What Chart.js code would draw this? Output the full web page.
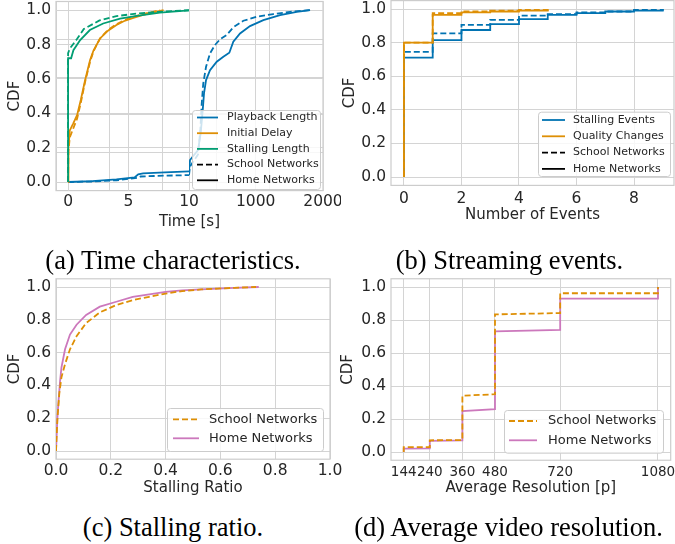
<!DOCTYPE html>
<html>
<head>
<meta charset="utf-8">
<script src="https://cdn.jsdelivr.net/npm/chart.js@4.4.0/dist/chart.umd.min.js"></script>
<style>
  body { margin: 0; background: #fff; width: 675px; height: 544px; position: relative; overflow: hidden; }
  canvas { position: absolute; }
  .cap { position: absolute; font-family: "Liberation Serif", "Times New Roman", serif; font-size: 26.5px; line-height: 1;
         color: #000; white-space: nowrap; transform: translateX(-50%); }
</style>
</head>
<body>
<canvas id="a0" width="330" height="232" style="left:0;top:0"></canvas>
<canvas id="a1" width="205" height="232" style="left:0;top:0"></canvas>
<canvas id="a2" width="152" height="232" style="left:189px;top:0"></canvas>
<canvas id="b" width="340" height="232" style="left:335px;top:0"></canvas>
<canvas id="c" width="345" height="232" style="left:0;top:270px"></canvas>
<canvas id="d" width="340" height="232" style="left:335px;top:270px"></canvas>
<div class="cap" style="left:173px;top:246.5px">(a) Time characteristics.</div>
<div class="cap" style="left:509.5px;top:246.5px">(b) Streaming events.</div>
<div class="cap" style="left:173px;top:513.5px">(c) Stalling ratio.</div>
<div class="cap" style="left:508.5px;top:513.5px">(d) Average video resolution.</div>
<script>
// tick values
const cdfTicks = [0, 0.2, 0.4, 0.6, 0.8, 1.0];
const overlayTicks = [0, 0.2, 0.4, 0.6, 0.8, 1.0];
const timeTicksShort = [0, 5, 10];
const timeTicksLong = [1000, 2000];
const eventTicks = [0, 2, 4, 6, 8];
const ratioTicks = [0, 0.2, 0.4, 0.6, 0.8, 1.0];
const resTicks = [144, 240, 360, 480, 720, 1080];

// legend / series names
const timeSeries = ['Playback Length', 'Initial Delay', 'Stalling Length'];
const eventSeries = ['Stalling Events', 'Quality Changes'];
const netLabels = ['School Networks', 'Home Networks'];

// (a) time characteristics, [seconds, CDF]
const playHomeShort = [[0, 0], [2, 0.005], [4, 0.015], [5.5, 0.027], [5.8, 0.045], [6.2, 0.05], [8, 0.056], [10, 0.062]];
const playSchoolShort = [[0, 0], [2, 0.003], [4, 0.01], [5.7, 0.024], [6, 0.032], [8, 0.037], [10, 0.04]];
const playHomeLong = [[10, 0.062], [25, 0.128], [144, 0.186], [184, 0.285], [214, 0.42], [233, 0.515], [263, 0.593],
  [322, 0.65], [422, 0.70], [520, 0.729], [609, 0.752], [668, 0.816], [768, 0.864], [916, 0.907], [1114, 0.942],
  [1362, 0.971], [1610, 0.99], [1808, 1.0]];
const playSchoolLong = [[10, 0.04], [25, 0.09], [144, 0.16], [178, 0.3], [199, 0.457], [222, 0.574], [263, 0.67],
  [322, 0.748], [396, 0.797], [471, 0.83], [570, 0.855], [668, 0.9], [817, 0.938], [1016, 0.961], [1263, 0.977],
  [1511, 0.99], [1808, 1.0]];
const delayHome = [[0, 0], [0.03, 0.2], [0.14, 0.3], [0.42, 0.34], [0.75, 0.39], [1.05, 0.477], [1.4, 0.59],
  [1.82, 0.71], [2.1, 0.765], [2.64, 0.835], [3.3, 0.88], [4.0, 0.913], [4.6, 0.935], [5.4, 0.955], [6.2, 0.972],
  [7.0, 0.986], [7.7, 0.997], [7.9, 1.0]];
const delaySchool = [[0, 0], [0.03, 0.18], [0.14, 0.26], [0.42, 0.31], [0.75, 0.37], [1.05, 0.46], [1.4, 0.58],
  [1.82, 0.70], [2.1, 0.76], [2.64, 0.835], [3.3, 0.885], [4.0, 0.918], [4.6, 0.94], [5.4, 0.96], [6.2, 0.977],
  [7.0, 0.99], [7.6, 1.0]];
const stallLenHome = [[0, 0], [0, 0.72], [0.25, 0.72], [0.44, 0.767], [1.0, 0.826], [1.8, 0.884], [2.9, 0.922],
  [4.3, 0.95], [5.7, 0.967], [7.6, 0.985], [10, 0.998]];
const stallLenSchool = [[0, 0], [0, 0.75], [0.15, 0.777], [0.4, 0.8], [0.72, 0.83], [1.3, 0.89], [2.6, 0.94],
  [4.0, 0.965], [5.7, 0.98], [7.5, 0.99], [10, 0.999]];

// (b) streaming events
const stallEvX = [0, 1, 2, 3, 4, 5, 6, 7, 8, 9];
const stallEvHome = [0.71, 0.815, 0.875, 0.91, 0.94, 0.965, 0.975, 0.985, 0.99, 1.0];
const stallEvSchool = [0.745, 0.855, 0.905, 0.935, 0.96, 0.97, 0.98, 0.985, 0.995, 1.0];
const qualX = [0, 1, 2, 3, 4, 5];
const qualHome = [0.80, 0.965, 0.98, 0.985, 0.99, 0.995];
const qualSchool = [0.80, 0.975, 0.985, 0.99, 0.995, 1.0];

// (c) stalling ratio
const ratioHome = [[0, 0], [0.005, 0.2], [0.0085, 0.29], [0.015, 0.43], [0.02, 0.51], [0.033, 0.62], [0.051, 0.71],
  [0.075, 0.77], [0.11, 0.83], [0.16, 0.88], [0.22, 0.91], [0.28, 0.94], [0.34, 0.955], [0.40, 0.97], [0.46, 0.98],
  [0.53, 0.985], [0.59, 0.99], [0.65, 0.995], [0.74, 1.0]];
const ratioSchool = [[0, 0], [0.005, 0.19], [0.012, 0.35], [0.02, 0.45], [0.033, 0.53], [0.051, 0.62], [0.075, 0.70],
  [0.11, 0.78], [0.16, 0.845], [0.22, 0.89], [0.28, 0.92], [0.34, 0.94], [0.40, 0.96], [0.46, 0.975], [0.53, 0.985],
  [0.59, 0.99], [0.65, 0.995], [0.73, 1.0]];

// (d) average resolution
const resSchool = [[144, 0], [144, 0.03], [240, 0.03], [240, 0.071], [360, 0.072], [360, 0.341], [480, 0.35],
  [480, 0.834], [720, 0.842], [720, 0.962], [1080, 0.962], [1080, 1.0]];
const resHome = [[144, 0], [144, 0.02], [240, 0.022], [240, 0.067], [360, 0.07], [360, 0.248], [480, 0.26],
  [480, 0.731], [720, 0.74], [720, 0.929], [1080, 0.929], [1080, 1.0]];

const BLUE = '#0173b2', ORANGE = '#de8f05', GREEN = '#029e73', PINK = '#cc78bc';
const GRID = '#d4d4d4', SPINE = '#cccccc', TEXT = '#262626';
const DASH = [6, 3];

Chart.defaults.font.family = "'DejaVu Sans', sans-serif";
Chart.defaults.color = TEXT;

const pts = a => a.map(([x, y]) => ({ x, y }));
const steps = (xs, ys) => [{ x: xs[0], y: 0 }, ...xs.map((x, i) => ({ x, y: ys[i] }))];
const line = (label, data, color, dashed, extra) => Object.assign({
  label, data, borderColor: color, borderWidth: 1.8, borderDash: dashed ? DASH : [],
  pointRadius: 0, fill: false, tension: 0
}, extra || {});

function xAxis(o) {
  return {
    type: 'linear', min: o.min, max: o.max,
    afterBuildTicks: s => { s.ticks = o.ticks.map(v => ({ value: v })); },
    afterFit: s => { s.height = o.height; s.paddingLeft = 0; s.paddingRight = 0; },
    ticks: { display: o.showTicks !== false, font: { size: o.tickSize || 15.5 }, padding: o.tickPad || 0,
      maxRotation: 0, autoSkip: false, callback: o.fmt || (v => String(v)) },
    grid: { color: GRID, drawTicks: false, lineWidth: 1 },
    border: { display: false },
    title: o.title ? { display: true, text: o.title, font: { size: 15 }, padding: { top: 0, bottom: o.titlePad } } : { display: false }
  };
}

function yAxis(o) {
  return {
    type: 'linear', min: o.min, max: o.max,
    afterBuildTicks: s => { s.ticks = o.ticks.map(v => ({ value: v })); },
    afterFit: s => { s.width = o.width; s.paddingTop = 0; s.paddingBottom = 0; },
    ticks: { display: o.showTicks !== false, font: { size: 15.5 }, padding: o.tickPad || 0, callback: v => v.toFixed(1) },
    grid: { color: GRID, drawTicks: false, lineWidth: 1 },
    border: { display: false },
    title: o.title ? { display: true, text: o.title, font: { size: 15 }, padding: { top: o.titlePad, bottom: 0 } } : { display: false }
  };
}

function framePlugin() {
  return {
    id: 'frame',
    beforeDatasetsDraw(chart) {
      const { ctx, chartArea: a } = chart;
      ctx.save();
      ctx.strokeStyle = SPINE;
      ctx.lineWidth = 1.2;
      ctx.strokeRect(a.left, a.top, a.right - a.left, a.bottom - a.top);
      ctx.restore();
    }
  };
}

function legendPlugin(spec) {
  return {
    id: 'boxLegend',
    afterDraw(chart) {
      const ctx = chart.ctx;
      ctx.save();
      ctx.beginPath();
      ctx.roundRect(spec.x + 0.5, spec.y + 0.5, spec.w, spec.h, 3);
      ctx.fillStyle = 'rgba(255,255,255,0.8)';
      ctx.fill();
      ctx.strokeStyle = SPINE;
      ctx.lineWidth = 1;
      ctx.stroke();
      ctx.font = spec.size + "px 'DejaVu Sans'";
      ctx.textBaseline = 'middle';
      spec.items.forEach((it, i) => {
        const cy = spec.first + i * spec.row;
        ctx.beginPath();
        ctx.setLineDash(it.dash ? DASH : []);
        ctx.strokeStyle = it.color;
        ctx.lineWidth = 1.8;
        ctx.moveTo(spec.lx0, cy);
        ctx.lineTo(spec.lx1, cy);
        ctx.stroke();
        ctx.setLineDash([]);
        ctx.fillStyle = TEXT;
        ctx.fillText(it.label, spec.tx, cy);
      });
      ctx.restore();
    }
  };
}

function makeChart(id, datasets, padding, scales, plugins) {
  return new Chart(document.getElementById(id), {
    type: 'line',
    data: { datasets },
    options: {
      responsive: false, animation: false, devicePixelRatio: 1,
      layout: { padding },
      plugins: { legend: { display: false }, tooltip: { enabled: false } },
      scales
    },
    plugins: plugins || []
  });
}

// (a) shared frame, labels and the overlay grid
makeChart('a0', [], { top: 1.5, right: 7, left: 0, bottom: 0 }, {
  x: xAxis({ min: 0, max: 1, ticks: overlayTicks, height: 41.4, showTicks: false, title: 'Time [s]', titlePad: 1 }),
  y: yAxis({ min: 0, max: 1, ticks: overlayTicks, width: 56, showTicks: false, title: 'CDF', titlePad: 5.8 })
}, [framePlugin()]);

// (a) left part: 0-10 s
makeChart('a1', [
  line(timeSeries[2], pts(stallLenSchool), GREEN, true),
  line(timeSeries[2], pts(stallLenHome), GREEN, false),
  line(timeSeries[1], pts(delaySchool), ORANGE, true),
  line(timeSeries[1], pts(delayHome), ORANGE, false),
  line(timeSeries[0], pts(playSchoolShort), BLUE, true),
  line(timeSeries[0], pts(playHomeShort), BLUE, false)
], { top: 1.5, right: 16, left: 0, bottom: 0 }, {
  x: xAxis({ min: -1, max: 10, ticks: timeTicksShort, height: 41.4, tickPad: 2 }),
  y: yAxis({ min: -0.05, max: 1.05, ticks: cdfTicks, width: 56, tickPad: 5 })
});

// (a) right part: 10-2000 s
makeChart('a2', [
  line(timeSeries[0], pts(playSchoolLong), BLUE, true),
  line(timeSeries[0], pts(playHomeLong), BLUE, false)
], { top: 1.5, right: 18, left: 0, bottom: 0 }, {
  x: xAxis({ min: 10, max: 2000, ticks: timeTicksLong, height: 41.4, tickPad: 2 }),
  y: yAxis({ min: -0.05, max: 1.05, ticks: cdfTicks, width: 0, showTicks: false })
}, [legendPlugin({
  x: 3, y: 110, w: 128, h: 79, first: 117.5, row: 15.7, lx0: 8, lx1: 29, tx: 38, size: 11,
  items: [
    { label: timeSeries[0], color: BLUE }, { label: timeSeries[1], color: ORANGE },
    { label: timeSeries[2], color: GREEN }, { label: netLabels[0], color: '#000', dash: true },
    { label: netLabels[1], color: '#000' }
  ]
})]);

// (b) streaming events
makeChart('b', [
  line(eventSeries[1], steps(qualX, qualSchool), ORANGE, true, { stepped: 'before' }),
  line(eventSeries[1], steps(qualX, qualHome), ORANGE, false, { stepped: 'before' }),
  line(eventSeries[0], steps(stallEvX, stallEvSchool), BLUE, true, { stepped: 'before' }),
  line(eventSeries[0], steps(stallEvX, stallEvHome), BLUE, false, { stepped: 'before' })
], { top: 0.6, right: 1, left: 0, bottom: 0 }, {
  x: xAxis({ min: -0.45, max: 9.39, ticks: eventTicks, height: 46.6, tickPad: 4.3, title: 'Number of Events', titlePad: 8 }),
  y: yAxis({ min: -0.05, max: 1.05, ticks: cdfTicks, width: 56, tickPad: 5, title: 'CDF', titlePad: 5.8 })
}, [framePlugin(), legendPlugin({
  x: 203, y: 111.7, w: 132, h: 64.3, first: 120, row: 16.3, lx0: 207, lx1: 230, tx: 238, size: 11,
  items: [
    { label: eventSeries[0], color: BLUE }, { label: eventSeries[1], color: ORANGE },
    { label: netLabels[0], color: '#000', dash: true }, { label: netLabels[1], color: '#000' }
  ]
})]);

// (c) stalling ratio
makeChart('c', [
  line(netLabels[0], pts(ratioSchool), ORANGE, true),
  line(netLabels[1], pts(ratioHome), PINK, false)
], { top: 8.8, right: 15, left: 0, bottom: 0 }, {
  x: xAxis({ min: 0, max: 1, ticks: ratioTicks, height: 42.8, tickPad: 2.5, fmt: v => v.toFixed(1), title: 'Stalling Ratio', titlePad: 5 }),
  y: yAxis({ min: -0.05, max: 1.05, ticks: cdfTicks, width: 56, tickPad: 5, title: 'CDF', titlePad: 5.8 })
}, [framePlugin(), legendPlugin({
  x: 167, y: 138, w: 156, h: 43, first: 149.3, row: 19, lx0: 173, lx1: 199, tx: 209, size: 13,
  items: [{ label: netLabels[0], color: ORANGE, dash: true }, { label: netLabels[1], color: PINK }]
})]);

// (d) average resolution
makeChart('d', [
  line(netLabels[0], pts(resSchool), ORANGE, true),
  line(netLabels[1], pts(resHome), PINK, false)
], { top: 8.75, right: 4.3, left: 0, bottom: 0 }, {
  x: xAxis({ min: 97.2, max: 1126.8, ticks: resTicks, height: 41.75, tickPad: 4.1, tickSize: 13.5, title: 'Average Resolution [p]', titlePad: 5 }),
  y: yAxis({ min: -0.05, max: 1.05, ticks: cdfTicks, width: 56, tickPad: 5, title: 'CDF', titlePad: 4.1 })
}, [framePlugin(), legendPlugin({
  x: 169, y: 140, w: 159, h: 42.7, first: 151, row: 19.3, lx0: 174, lx1: 202, tx: 213, size: 13,
  items: [{ label: netLabels[0], color: ORANGE, dash: true }, { label: netLabels[1], color: PINK }]
})]);
</script>
</body>
</html>
